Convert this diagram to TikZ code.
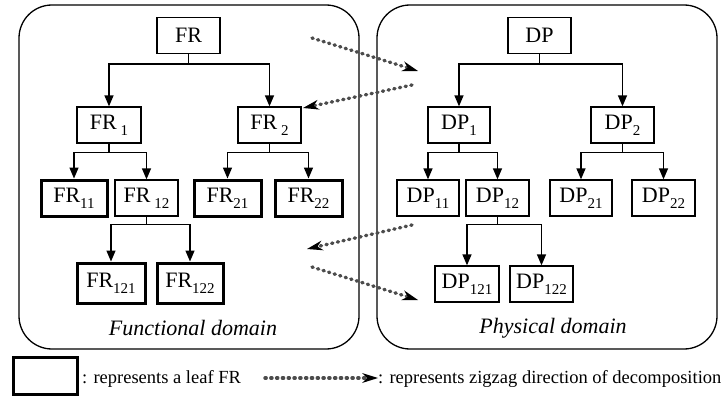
\documentclass[tikz,border=0pt]{standalone}
\usepackage{fontspec}
\setmainfont{Liberation Serif}
\usetikzlibrary{arrows.meta,calc}
\newcommand\subtx[1]{\raisebox{-0.28em}{\fontsize{15}{15}\selectfont #1}}
\begin{document}
\begin{tikzpicture}[x=1pt,y=-1pt,
  every node/.style={font=\fontsize{22}{24}\selectfont},
  box/.style={draw, line width=1.3pt, inner sep=0pt, minimum height=36pt, minimum width=63pt},
  leaf/.style={box, line width=3pt},
  dombox/.style={draw, line width=1.3pt, rounded corners=33pt},
  conn/.style={line width=1.4pt, -{Triangle[length=11pt,width=9pt]}},
  zz/.style={draw=black!70, line width=3.4pt, line cap=round, dash pattern=on 1.2pt off 4.6pt,
    -{Stealth[length=16pt,width=10pt,line width=0pt,color=black,fill=black]}},
  lbl/.style={font=\fontsize{18.5}{20}\selectfont, inner sep=0pt, anchor=west}
]
\useasboundingbox (0,0) rectangle (724,396);
% domains
\draw[dombox] (19,5) rectangle (359,349);
\draw[dombox] (377,5) rectangle (717,349);
\node[font=\fontsize{22}{24}\selectfont\itshape] (fdom) at (193,328) {Functional domain};
\node[font=\fontsize{22}{24}\selectfont\itshape] (pdom) at (553,328) {Physical domain};
% FR tree
\node[box] (FR) at (188.5,35.5) {FR};
\node[box, minimum width=64pt] (FR1) at (109,125) {FR\,\subtx{1}};
\node[box] (FR2) at (269.5,125) {FR\,\subtx{2}};
\node[leaf, minimum width=66pt] (FR11) at (74,198) {FR\subtx{11}};
\node[box] (FR12) at (146.5,198) {FR\,\subtx{12}};
\node[leaf, minimum width=67pt] (FR21) at (227.5,198) {FR\subtx{21}};
\node[leaf, minimum width=67pt] (FR22) at (308.5,198) {FR\subtx{22}};
\node[leaf, minimum width=68pt, minimum height=40pt] (FR121) at (111,283) {FR\subtx{121}};
\node[leaf, minimum width=66pt, minimum height=40pt] (FR122) at (190,283) {FR\subtx{122}};
\draw[conn] (FR.south) -- ++(0,10) -| (FR1.north);
\draw[conn] (FR.south) -- ++(0,10) -| (FR2.north);
\draw[conn] (FR1.south) -- ++(0,9) -| (FR11.north);
\draw[conn] (FR1.south) -- ++(0,9) -| (FR12.north);
\draw[conn] (FR2.south) -- ++(0,9) -| (FR21.north);
\draw[conn] (FR2.south) -- ++(0,9) -| (FR22.north);
\draw[conn] (FR12.south) -- ++(0,8) -| (FR121.north);
\draw[conn] (FR12.south) -- ++(0,8) -| (FR122.north);
% DP tree
\node[box] (DP) at (539.5,35.5) {DP};
\node[box, minimum width=62pt] (DP1) at (459,125) {DP\subtx{1}};
\node[box] (DP2) at (622.5,125) {DP\subtx{2}};
\node[box, minimum width=62pt] (DP11) at (428,198) {DP\subtx{11}};
\node[box] (DP12) at (497.5,198) {DP\subtx{12}};
\node[box, minimum width=62pt] (DP21) at (581,198) {DP\subtx{21}};
\node[box] (DP22) at (663.5,198) {DP\subtx{22}};
\node[box, minimum width=64pt] (DP121) at (467,284) {DP\subtx{121}};
\node[box] (DP122) at (541.5,284) {DP\subtx{122}};
\draw[conn] (DP.south) -- ++(0,10) -| (DP1.north);
\draw[conn] (DP.south) -- ++(0,10) -| (DP2.north);
\draw[conn] (DP1.south) -- ++(0,9) -| (DP11.north);
\draw[conn] (DP1.south) -- ++(0,9) -| (DP12.north);
\draw[conn] (DP2.south) -- ++(0,9) -| (DP21.north);
\draw[conn] (DP2.south) -- ++(0,9) -| (DP22.north);
\draw[conn] (DP12.south) -- ++(0,8) -| (DP121.north);
\draw[conn] (DP12.south) -- ++(0,8) -| (DP122.north);
% zigzag arrows
\coordinate (z1a) at (312,38);
\coordinate (z1b) at (418,71);
\coordinate (z2a) at (412,85);
\coordinate (z2b) at (303,108);
\coordinate (z3a) at (412,225);
\coordinate (z3b) at (307,249);
\coordinate (z4a) at (312,267);
\coordinate (z4b) at (418,300);
\draw[zz] (z1a) -- (z1b);
\draw[zz] (z2a) -- (z2b);
\draw[zz] (z3a) -- (z3b);
\draw[zz] (z4a) -- (z4b);
% legend
\node[leaf, minimum width=64pt, minimum height=37pt, line width=3.4pt] (lbox) at (45.5,376) {};
\node[lbl] (ltxt1) at (82,379) {: represents a leaf FR};
\coordinate (la) at (265,378);
\coordinate (lb) at (378,378);
\draw[zz] (la) -- (lb);
\node[lbl] (ltxt2) at (378,379) {: represents zigzag direction of decomposition};
\end{tikzpicture}
\end{document}
